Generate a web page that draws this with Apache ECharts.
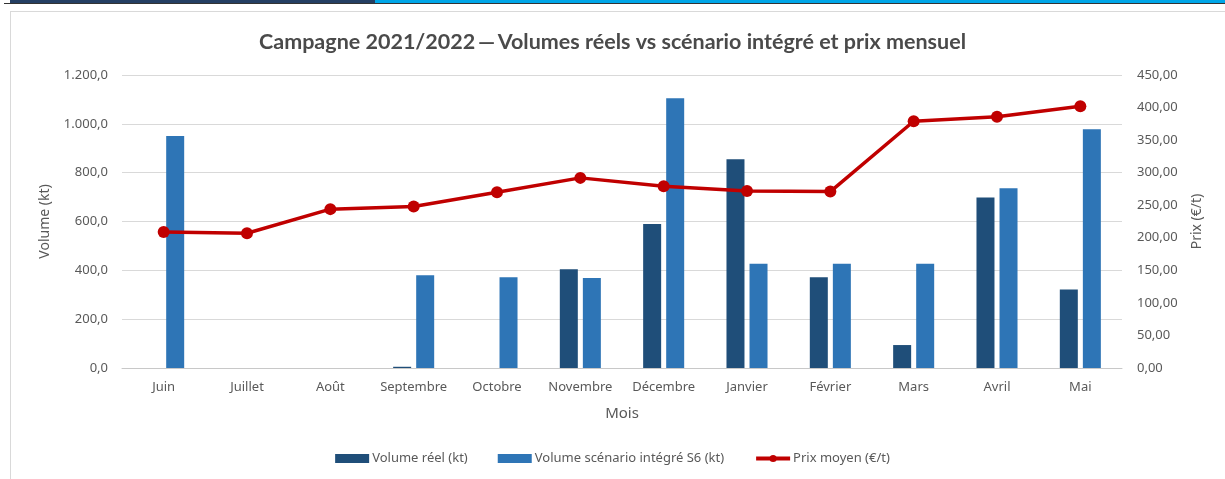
<!DOCTYPE html>
<html>
<head>
<meta charset="utf-8">
<script src="https://cdn.jsdelivr.net/npm/echarts@6/dist/echarts.min.js"></script>
<style>
  html, body { margin: 0; padding: 0; background: #fff; }
  #wrap { position: relative; width: 1225px; height: 479px; overflow: hidden; }
  #strip-dark { position: absolute; left: 10px; top: 0; width: 365px; height: 3px; background: #243f63; }
  #strip-blue { position: absolute; left: 375px; top: 0; width: 850px; height: 3px; background: #00a6e8; }
  #strip-line { position: absolute; left: 4px; top: 3px; width: 1221px; height: 1px; background: #333; }
  #frame { position: absolute; left: 10px; top: 11px; width: 1230px; height: 480px; border: 1px solid #d9d9d9; box-sizing: border-box; }
  #chart { position: absolute; left: 0; top: 0; width: 1225px; height: 479px; }
</style>
</head>
<body>
<div id="wrap">
  <div id="strip-dark"></div>
  <div id="strip-blue"></div>
  <div id="strip-line"></div>
  <div id="frame"></div>
  <div id="chart"></div>
</div>
<script>
// Campagne 2021/2022 : volumes mensuels (kt) et prix moyen (€/t)
const months = ['Juin', 'Juillet', 'Août', 'Septembre', 'Octobre', 'Novembre',
                'Décembre', 'Janvier', 'Février', 'Mars', 'Avril', 'Mai'];
const volumeReel = [null, null, null, 5, null, 404, 590, 855, 372, 94, 698, 321];
const volumeScenario = [950, null, null, 380, 372, 369, 1105, 427, 427, 427, 736, 978];
const prixMoyen = [209, 207, 244, 248, 270, 292, 279, 272, 271, 379, 386, 402];
const volumeTicks = { min: 0, max: 1200, interval: 200 };
const prixTicks = { min: 0, max: 450, interval: 50 };

const frNum = (v, d) => v.toFixed(d).replace('.', ',').replace(/\B(?=(\d{3})+(?!\d))/g, '.');

const FONT = 'Noto Sans';
const GREY = '#595959';

const chart = echarts.init(document.getElementById('chart'), null, { renderer: 'canvas' });
chart.setOption({
  animation: false,
  textStyle: { fontFamily: FONT },
  title: {
    text: 'Campagne 2021/2022\u2009—\u2009Volumes réels vs scénario intégré et prix mensuel',
    left: 'center',
    top: 26,
    textStyle: { fontFamily: 'Lato', fontWeight: 'bold', fontSize: 21.5, color: '#4a4a4a' }
  },
  legend: {
    bottom: 9,
    left: 'center',
    itemGap: 30,
    itemWidth: 34,
    itemHeight: 9,
    textStyle: { color: GREY, fontSize: 13, fontFamily: FONT, padding: [0, 0, 0, -2] },
    data: [
      { name: 'Volume réel (kt)', icon: 'rect' },
      { name: 'Volume scénario intégré S6 (kt)', icon: 'rect' },
      { name: 'Prix moyen (€/t)', itemStyle: { color: '#c00000' }, lineStyle: { width: 4, color: '#c00000' } }
    ]
  },
  grid: { left: 122, right: 103, top: 75, bottom: 111, containLabel: false },
  xAxis: {
    type: 'category',
    data: months,
    name: 'Mois',
    nameLocation: 'middle',
    nameGap: 38,
    nameTextStyle: { color: GREY, fontSize: 15 },
    axisTick: { show: false },
    axisLine: { lineStyle: { color: '#c8c8c8' } },
    axisLabel: { color: GREY, fontSize: 13, margin: 13, interval: 0 }
  },
  yAxis: [
    {
      type: 'value',
      min: volumeTicks.min, max: volumeTicks.max, interval: volumeTicks.interval,
      name: 'Volume (kt)',
      nameLocation: 'middle',
      nameGap: 70,
      nameTextStyle: { color: GREY, fontSize: 14 },
      axisLabel: { color: GREY, fontSize: 13, margin: 14, formatter: v => frNum(v, 1) },
      splitLine: { lineStyle: { color: '#d9d9d9' } },
      axisLine: { show: false },
      axisTick: { show: false }
    },
    {
      type: 'value',
      min: prixTicks.min, max: prixTicks.max, interval: prixTicks.interval,
      name: 'Prix (€/t)',
      nameLocation: 'middle',
      nameGap: 68,
      nameTextStyle: { color: GREY, fontSize: 14 },
      axisLabel: { color: GREY, fontSize: 13, margin: 15, formatter: v => frNum(v, 2) },
      splitLine: { show: false },
      axisLine: { show: false },
      axisTick: { show: false }
    }
  ],
  series: [
    {
      name: 'Volume réel (kt)',
      type: 'bar',
      data: volumeReel,
      barWidth: 18,
      barGap: '28%',
      itemStyle: { color: '#1f4e79' }
    },
    {
      name: 'Volume scénario intégré S6 (kt)',
      type: 'bar',
      data: volumeScenario,
      barWidth: 18,
      barGap: '28%',
      itemStyle: { color: '#2e75b6' }
    },
    {
      name: 'Prix moyen (€/t)',
      type: 'line',
      yAxisIndex: 1,
      data: prixMoyen,
      symbol: 'circle',
      symbolSize: 12,
      lineStyle: { color: '#c00000', width: 3.5 },
      itemStyle: { color: '#c00000' }
    }
  ]
});
</script>
</body>
</html>
